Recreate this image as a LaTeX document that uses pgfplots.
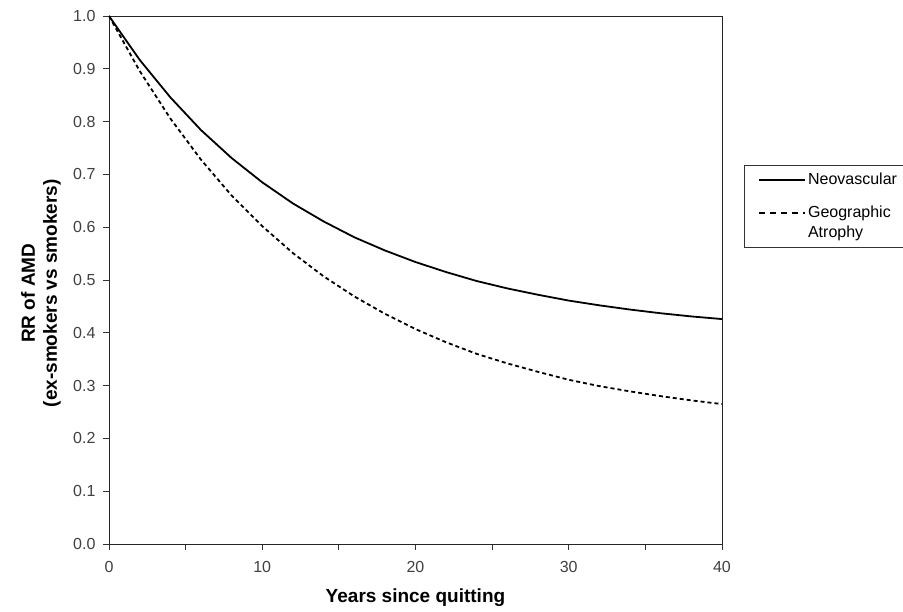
\documentclass[border=0pt]{standalone}
\usepackage{fontspec}
\setmainfont{Liberation Sans}
\usepackage{pgfplots}
\pgfplotsset{compat=1.18}
\pgfplotsset{
    geolegend/.style={legend image code/.code={%
        \draw[##1, line width=1.8pt, dash pattern=on 6pt off 5pt] (0pt,9.5pt) -- (46pt,9.5pt);}},
}

\begin{document}
\begin{tikzpicture}
\begin{axis}[
    scale only axis,
    width=613pt, height=528pt,
    xmin=0, xmax=40, ymin=0, ymax=1,
    xtick={0,10,20,30,40},
    minor xtick={5,15,25,35},
    ytick={0,0.1,...,1.0},
    xtick pos=bottom, ytick pos=left,
    tick align=outside,
    major tick length=6pt, minor tick length=6pt,
    tick style={black!80, line width=0.8pt},
    axis line style={black!85, line width=0.9pt},
    /pgf/number format/assume math mode=true,
    yticklabel style={/pgf/number format/fixed, /pgf/number format/fixed zerofill,
        /pgf/number format/precision=1, xshift=-4pt},
    tick label style={font=\fontsize{16}{18}\selectfont, text=black!75},
    xticklabel style={yshift=-8pt},
    xlabel={Years since quitting},
    ylabel={RR of AMD\\(ex-smokers vs smokers)},
    xlabel style={at={(axis description cs:0.5,-0.102)}, anchor=center,
        font=\bfseries\fontsize{19}{22}\selectfont},
    ylabel style={at={(axis description cs:-0.111,0.475)}, anchor=center, align=center,
        font=\bfseries\fontsize{19}{22}\selectfont},
    legend style={at={(1.036,0.718)}, anchor=north west, draw=black!80,
        font=\fontsize{16}{19.5}\selectfont, cells={anchor=west, align=left, inner xsep=1pt},
        row sep=16pt, column sep=0pt, inner xsep=14pt, inner ysep=6pt},
    legend image code/.code={\draw[#1, line width=1.8pt] (0pt,0pt) -- (46pt,0pt);},
]
\addplot[black, line width=1.8pt] coordinates {
    (0,1.000) (2,0.917) (4,0.846) (6,0.784) (8,0.731) (10,0.685)
    (12,0.645) (14,0.611) (16,0.581) (18,0.556) (20,0.534)
    (22,0.515) (24,0.498) (26,0.484) (28,0.472) (30,0.461)
    (32,0.452) (34,0.444) (36,0.437) (38,0.431) (40,0.426)
};
\addlegendentry{Neovascular}
\addplot[black, line width=1.8pt, dash pattern=on 4pt off 3pt, geolegend]
    coordinates {
    (0,1.000) (2,0.896) (4,0.806) (6,0.728) (8,0.660) (10,0.602)
    (12,0.551) (14,0.507) (16,0.469) (18,0.436) (20,0.407)
    (22,0.382) (24,0.360) (26,0.342) (28,0.326) (30,0.311)
    (32,0.299) (34,0.289) (36,0.280) (38,0.272) (40,0.265)
};
\addlegendentry{Geographic\\Atrophy}
\end{axis}
\pgfresetboundingbox
\path (current axis.south west) ++(-109pt,-68pt) rectangle ++(903pt,612pt);
\end{tikzpicture}
\end{document}
